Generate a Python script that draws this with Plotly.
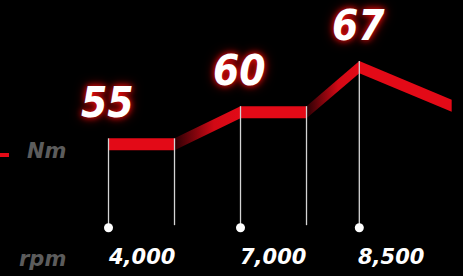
import plotly.graph_objects as go

# ---- data ----
curve_pos = [0, 1, 2, 3, 3.8, 5.2]          # position along rpm band (index units)
curve_nm = [55, 55, 60, 60, 67, 61]          # torque level of curve
peak_pos = [0, 2, 3.8]
peak_nm = [55, 60, 67]
rpm_pos = [0, 2, 3.8]
rpm_labels = ["4,000", "7,000", "8,500"]

# ---- style ----
RED = "#e30a17"
GRAY = "#5c5c5c"
LINE = "#d4d4d4"
FONT = "DejaVu Sans"
BIG_FONT = "DejaVu Sans Condensed, DejaVu Sans"
X_RANGE = [-1.644, 5.371]
Y_RANGE = [33.6, 76.5]
BAND = 1.87           # band thickness (Nm units, ~12px)
BASE_LINE = 41.5
BASE_DOT = 41.1
LABEL_Y = 36.5

fig = go.Figure()

# torque band
for i in range(len(curve_pos) - 1):
    x0, x1 = curve_pos[i], curve_pos[i + 1]
    y0, y1 = curve_nm[i], curve_nm[i + 1]
    xs = [x0, x1, x1, x0, x0]
    ys = [y0, y1, y1 - BAND, y0 - BAND, y0]
    kw = dict(x=xs, y=ys, mode="lines", fill="toself",
              line=dict(width=0, color="rgba(0,0,0,0)"), hoverinfo="skip")
    if y1 > y0:
        kw["fillgradient"] = dict(type="horizontal",
                                  colorscale=[[0, "#2a0004"], [0.6, "#d20915"], [1, RED]])
    else:
        kw["fillcolor"] = RED
    fig.add_trace(go.Scatter(**kw))

# vertical dividers
for i in range(len(curve_pos) - 1):
    p = curve_pos[i]
    bottom = BASE_DOT if p in rpm_pos else BASE_LINE
    fig.add_trace(go.Scatter(x=[p, p], y=[curve_nm[i], bottom], mode="lines",
                             line=dict(color=LINE, width=1.3), hoverinfo="skip"))

# dots
fig.add_trace(go.Scatter(x=rpm_pos, y=[BASE_DOT] * len(rpm_pos), mode="markers",
                         marker=dict(color="white", size=9), hoverinfo="skip"))

annotations = []
for p, v in zip(peak_pos, peak_nm):
    annotations.append(dict(x=p, y=v, text=str(v), showarrow=False,
                            xanchor="center", yanchor="middle", xshift=-1, yshift=36,
                            font=dict(family=BIG_FONT, size=42, color="white",
                                      weight="bold", style="italic",
                                      shadow="0px 0px 6px #ff1010, 0px 0px 12px #a00000")))
for p, t in zip(rpm_pos, rpm_labels):
    annotations.append(dict(x=p, y=LABEL_Y, text=t, showarrow=False,
                            xanchor="left", yanchor="middle", xshift=-3,
                            font=dict(family=FONT, size=21, color="white",
                                      weight="bold", style="italic")))
annotations.append(dict(xref="paper", yref="paper", x=68 / 463, y=1 - 259 / 276,
                        text="rpm", showarrow=False, xanchor="right", yanchor="middle",
                        font=dict(family=FONT, size=21, color=GRAY,
                                  weight="bold", style="italic")))
annotations.append(dict(xref="paper", yref="paper", x=68 / 463, y=1 - 151 / 276,
                        text="Nm", showarrow=False, xanchor="right", yanchor="middle",
                        font=dict(family=FONT, size=21, color=GRAY,
                                  weight="bold", style="italic")))

fig.update_layout(
    width=463, height=276,
    margin=dict(l=0, r=0, t=0, b=0),
    paper_bgcolor="black", plot_bgcolor="black",
    showlegend=False,
    xaxis=dict(range=X_RANGE, visible=False, fixedrange=True),
    yaxis=dict(range=Y_RANGE, visible=False, fixedrange=True),
    annotations=annotations,
    shapes=[dict(type="line", xref="paper", yref="paper",
                 x0=0, x1=9 / 463, y0=1 - 155 / 276, y1=1 - 155 / 276,
                 line=dict(color=RED, width=4))],
)

fig.write_html("out.html", config={"displayModeBar": False},
               post_script="document.body.style.margin='0';document.body.style.background='black';")
